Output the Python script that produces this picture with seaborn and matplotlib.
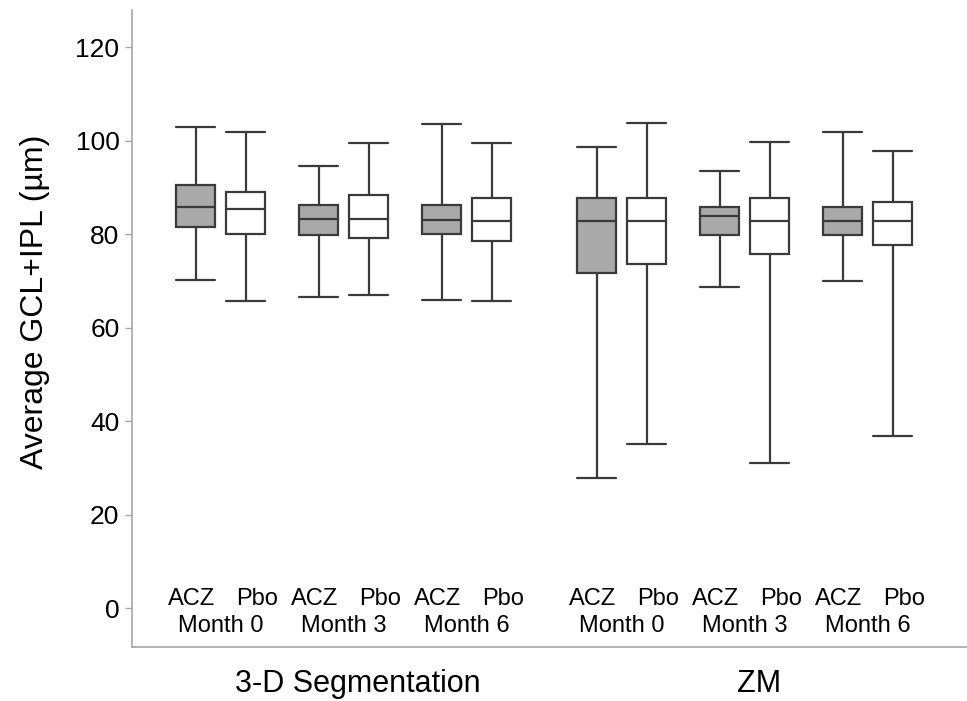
import matplotlib
matplotlib.use("Agg")
import matplotlib.pyplot as plt
import numpy as np
import pandas as pd
import seaborn as sns

# categories
methods = ["3-D Segmentation", "ZM"]
months = ["Month 0", "Month 3", "Month 6"]
treatments = ["ACZ", "Pbo"]

# five-number summaries, order: method -> month -> treatment
lows = [70.2, 65.7, 66.5, 67.1, 66.0, 65.7,
        27.8, 35.1, 68.8, 31.0, 69.9, 36.8]
q1s = [81.6, 80.1, 79.9, 79.1, 80.1, 78.5,
       71.7, 73.7, 79.9, 75.7, 79.9, 77.7]
medians = [85.8, 85.3, 83.3, 83.3, 83.1, 82.8,
           82.8, 82.8, 83.9, 82.8, 82.8, 82.8]
q3s = [90.5, 89.0, 86.3, 88.3, 86.3, 87.8,
       87.8, 87.8, 85.8, 87.8, 85.8, 86.9]
highs = [103.0, 101.8, 94.5, 99.5, 103.5, 99.5,
         98.7, 103.7, 93.6, 99.8, 101.8, 97.9]

# layout of the boxes on a numeric x axis
pair_gap = 2.46
group_gap = 8.02

rows = []
k = 0
for gi, method in enumerate(methods):
    for mi, month in enumerate(months):
        for ti, treat in enumerate(treatments):
            pos = gi * group_gap + mi * pair_gap + ti
            # feeding the five-number summary makes the box match exactly
            for v in (lows[k], q1s[k], medians[k], q3s[k], highs[k]):
                rows.append({"pos": pos, "value": v, "treatment": treat,
                             "month": month, "method": method})
            k += 1
df = pd.DataFrame(rows)

sns.set_style("white")
plt.rcParams["font.family"] = ["Liberation Sans", "DejaVu Sans"]
text_color = "#000000"

fig = plt.figure(figsize=(9.67, 7.01), dpi=100)
ax = fig.add_axes([0.1365, 0.077, 0.8635, 0.909])

sns.boxplot(data=df, x="pos", y="value", hue="treatment",
            palette={"ACZ": "#a9a9a9", "Pbo": "white"},
            native_scale=True, dodge=False, width=0.78, whis=np.inf,
            linecolor="#3a3a3a", linewidth=1.6, saturation=1,
            capwidths=0.78, legend=False, ax=ax)

ax.set_xlim(-1.28, 15.42)
ax.set_ylim(-8.3, 128)
ax.set_yticks(range(0, 121, 20))
ax.set_xticks([])
ax.set_xlabel("")
ax.set_ylabel("Average GCL+IPL (µm)", fontsize=23, color=text_color)
ax.yaxis.set_label_coords(-0.098, 0.542)

for side in ("top", "right"):
    ax.spines[side].set_visible(False)
for side in ("left", "bottom"):
    ax.spines[side].set_color("#a6a6a6")
    ax.spines[side].set_linewidth(1.2)
ax.tick_params(axis="y", left=True, length=5, width=1, color="#a6a6a6",
               labelsize=19, labelcolor=text_color, pad=4)

# inner labels below the boxes
label_shift = {"ACZ": -0.58, "Pbo": 0.72}
for gi, method in enumerate(methods):
    for mi, month in enumerate(months):
        mid = gi * group_gap + mi * pair_gap + 0.5
        for treat in treatments:
            ax.text(mid + label_shift[treat], 0.64, treat, ha="center",
                    va="baseline", fontsize=17, color=text_color)
        ax.text(mid, -5.1, month, ha="center", va="baseline",
                fontsize=17, color=text_color)
    centre = gi * group_gap + pair_gap + 0.5 + 0.28
    ax.text(centre, -0.0706, method, ha="center", va="baseline", fontsize=22,
            color=text_color, transform=ax.get_xaxis_transform())

fig.savefig("out.png", dpi=100)
